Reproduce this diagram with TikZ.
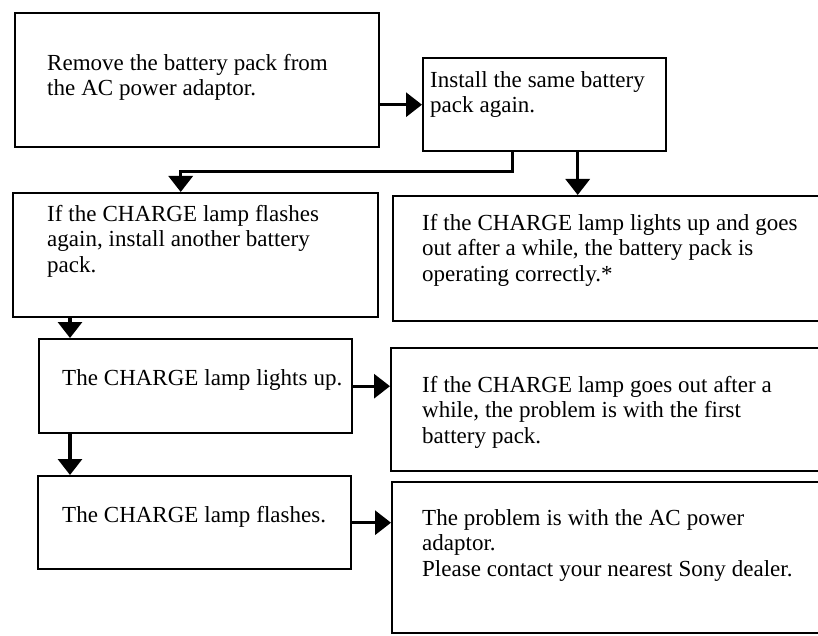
\documentclass[tikz,border=0pt]{standalone}
\usepackage{fontspec}
\setmainfont{Liberation Serif}
\usetikzlibrary{arrows.meta}

\begin{document}
\begin{tikzpicture}[x=1pt,y=-1pt,>={Triangle[length=16pt,width=24pt]}]
\tikzstyle{B}=[draw,line width=2.4pt,anchor=north west,align=left,inner xsep=0pt,inner ysep=0pt,font=\fontsize{23}{25.5}\selectfont]
\tikzstyle{lpad}=[execute at begin node={\leftskip=#1\spaceskip=.26em\xspaceskip=.35em\relax}]
\tikzstyle{C}=[->,line width=3.2pt]
\clip (0,0) rectangle (818,636);
\node[B,text width=364pt,text height=57pt,text depth=77pt,lpad=32pt] (remove) at (14,12) {Remove the battery pack from\\the AC power adaptor.};
\node[B,text width=243pt,text height=29pt,text depth=64pt,lpad=7pt] (install) at (422,57) {Install the same battery\\pack again.};
\node[B,text width=365pt,text height=28pt,text depth=96pt,lpad=34pt] (flashagain) at (12,192) {If the CHARGE lamp flashes\\again, install another battery\\pack.};
\node[B,text width=440pt,text height=34pt,text depth=91pt,lpad=29pt] (okpack) at (392,195) {If the CHARGE lamp lights up and goes\\out after a while, the battery pack is\\operating correctly.*};
\node[B,text width=313pt,text height=46pt,text depth=48pt,lpad=23pt] (lightsup) at (38,338) {The CHARGE lamp lights up.};
\node[B,text width=442pt,text height=44pt,text depth=79pt,lpad=31pt] (firstpack) at (390,347) {If the CHARGE lamp goes out after a\\while, the problem is with the first\\battery pack.};
\node[B,text width=313pt,text height=46pt,text depth=47pt,lpad=24pt] (flashes) at (37,475) {The CHARGE lamp flashes.};
\node[B,text width=441pt,text height=43pt,text depth=108pt,lpad=30pt] (adaptor) at (391,481) {The problem is with the AC power\\adaptor.\\Please contact your nearest Sony dealer.};
% connectors
\draw[C] (remove.east |- install.west) -- (install.west);
\draw[C] ([xshift=-32pt]install.south) -- ++(0,19) -| ([xshift=-15pt]flashagain.north);
\draw[C] ([xshift=33pt]install.south) -- ([xshift=33pt]install.south |- okpack.north);
\draw[C] ([xshift=58pt]flashagain.south west) -- ([xshift=58pt]flashagain.south west |- lightsup.north);
\draw[C] (lightsup.east) -- (lightsup.east -| firstpack.west);
\draw[C] ([xshift=32pt]lightsup.south west) -- ([xshift=32pt]lightsup.south west |- flashes.north);
\draw[C] (flashes.east) -- (flashes.east -| adaptor.west);
\end{tikzpicture}
\end{document}
